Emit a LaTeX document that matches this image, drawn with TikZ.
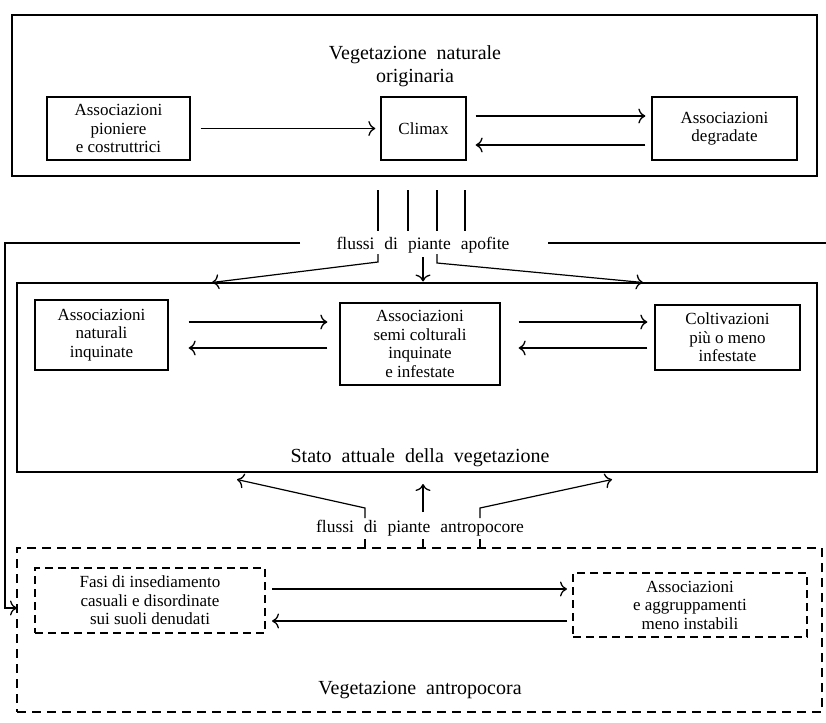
\documentclass[tikz,border=0pt]{standalone}
\usepackage{fontspec}
\setmainfont{Liberation Serif}
\usetikzlibrary{arrows.meta}
\newcommand{\ttlfont}{\fontsize{20}{23}\selectfont\spaceskip=10pt plus 2pt\relax}
\newcommand{\ws}{\hspace{10pt}}
\begin{document}
\begin{tikzpicture}[x=1pt,y=-1pt,
  box/.style={draw,line width=1.3pt,inner sep=2pt,align=center,font=\fontsize{17}{18.5}\selectfont},
  dbox/.style={box,dash pattern=on 8pt off 5pt,line width=1.5pt},
  frame/.style={draw,line width=1.5pt},
  dframe/.style={draw,line width=1.6pt,dash pattern=on 9pt off 6pt},
  arr/.style={line width=1.2pt,-{Computer Modern Rightarrow[length=7pt,width=15pt,line width=1.3pt]}},
  ln/.style={line width=1.2pt},
  ttl/.style={font=\ttlfont,align=center},
  lbl/.style={font=\fontsize{17.5}{19}\selectfont}]
\useasboundingbox (0,0) rectangle (826,722);
% top section
\node[frame,minimum width=805pt,minimum height=161pt] (top) at (414.5,95.5) {};
\node[ttl] (toptitle) at (415,66) {Vegetazione naturale\\originaria};
\node[box,minimum width=143pt,minimum height=63pt] (pion) at (118.5,128.5) {Associazioni\\pioniere\\e costruttrici};
\node[box,minimum width=85pt,minimum height=63pt] (climax) at (423.5,128.5) {Climax};
\node[box,minimum width=145pt,minimum height=63pt] (degr) at (724.5,128.5) {Associazioni\\degradate};
\draw[arr,shorten <=10pt,shorten >=5pt] (pion) -- (climax);
\draw[arr,shorten <=9pt,shorten >=6pt] ([yshift=12.5pt]climax.east) -- ([yshift=12.5pt]degr.west);
\draw[arr,shorten <=6pt,shorten >=9pt] ([yshift=-16.5pt]degr.west) -- ([yshift=-16.5pt]climax.east);
% apofite flows
\coordinate (v1t) at (378,190); \coordinate (v1b) at (378,231);
\coordinate (v2t) at (408,190); \coordinate (v2b) at (408,231);
\coordinate (v3t) at (437,190); \coordinate (v3b) at (437,231);
\coordinate (v4t) at (465,190); \coordinate (v4b) at (465,231);
\draw[ln] (v1t) -- (v1b); \draw[ln] (v2t) -- (v2b);
\draw[ln] (v3t) -- (v3b); \draw[ln] (v4t) -- (v4b);
\node[lbl] (apof) at (423,245) {flussi\ws di\ws piante\ws apofite};
\coordinate (lstart) at (300,243);
\coordinate (rstart) at (548,243);
\coordinate (rend) at (826,243);
\coordinate (hook) at (17,608);
\draw[arr] (lstart) -- (5,243) |- (hook);
\draw[ln] (rstart) -- (rend);
% middle section
\node[frame,minimum width=800pt,minimum height=189pt] (mid) at (417,377.5) {};
\draw[arr] (378,254) -- (378,262) -- (212,282.5);
\draw[arr] (423,257) -- (423,281.5);
\draw[arr] (437,254) -- (437,263) -- (643,282.5);
\node[box,minimum width=133pt,minimum height=70pt] (nat) at (101.5,335) {Associazioni\\naturali\\inquinate};
\node[box,minimum width=160pt,minimum height=82pt] (semi) at (420,344) {Associazioni\\semi colturali\\inquinate\\e infestate};
\node[box,minimum width=145pt,minimum height=65pt] (colt) at (727.5,337.5) {Coltivazioni\\più o meno\\infestate};
\draw[arr,shorten <=20pt,shorten >=12pt] ([yshift=13pt]nat.east) -- ([yshift=13pt]nat.east -| semi.west);
\draw[arr,shorten <=12pt,shorten >=20pt] ([yshift=-13pt]nat.east -| semi.west) -- ([yshift=-13pt]nat.east);
\draw[arr,shorten <=18pt,shorten >=7pt] ([yshift=13pt]nat.east -| semi.east) -- ([yshift=13pt]nat.east -| colt.west);
\draw[arr,shorten <=7pt,shorten >=18pt] ([yshift=-13pt]nat.east -| colt.west) -- ([yshift=-13pt]nat.east -| semi.east);
\node[ttl] (midtitle) at (420,458) {Stato attuale della vegetazione};
% antropocore flows
\node[lbl] (antrolbl) at (420,528) {flussi\ws di\ws piante\ws antropocore};
\draw[arr] (365,518) -- (365,508) -- (237,479.5);
\draw[arr] (423,512) -- (423,484);
\draw[arr] (480,518) -- (480,508) -- (612,479.5);
\draw[ln] (365,539) -- (365,548);
\draw[ln] (423,539) -- (423,548);
\draw[ln] (480,539) -- (480,548);
% bottom section
\node[dframe,minimum width=805pt,minimum height=164pt] (antro) at (419.5,630) {};
\node[dbox,minimum width=230pt,minimum height=65pt] (fasi) at (150,600.5) {Fasi di insediamento\\casuali e disordinate\\sui suoli denudati};
\node[dbox,minimum width=234pt,minimum height=64pt] (aggr) at (690,605) {Associazioni\\e aggruppamenti\\meno instabili};
\draw[arr] (272,589) -- (567,589);
\draw[arr] (567,621) -- (272,621);
\node[ttl] (bottitle) at (420,690) {Vegetazione antropocora};
\end{tikzpicture}
\end{document}
